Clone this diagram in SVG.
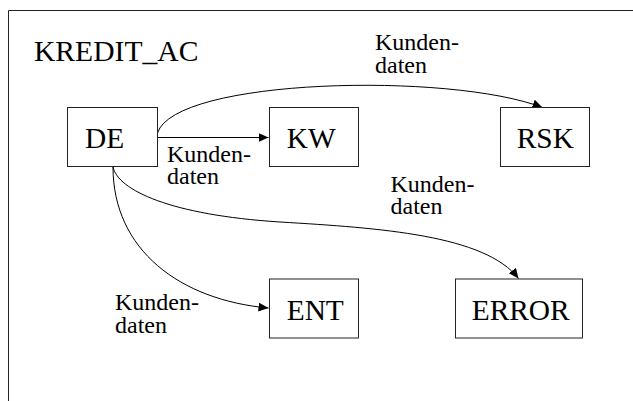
<svg xmlns="http://www.w3.org/2000/svg" width="633" height="401" viewBox="0 0 633 401">
  <style>
    .frame { fill: none; stroke: #222; stroke-width: 1; }
    .box { fill: #fff; stroke: #222; stroke-width: 1; }
    .edge { fill: none; stroke: #000; stroke-width: 1; marker-end: url(#arrow); }
  </style>
  <defs>
    <marker id="arrow" markerUnits="userSpaceOnUse" markerWidth="11" markerHeight="10" refX="10" refY="4.5" orient="auto">
      <path d="M0,0 L10,4.5 L0,9 Z" fill="#000"/>
    </marker>
  </defs>

  <rect width="633" height="401" fill="#fff"/>

  <g font-family="Liberation Serif" fill="#000">
    <!-- activity frame, open to the right and bottom -->
    <path class="frame" d="M8.5,401 V10.5 H633"/>
    <text x="34" y="61" font-size="29.6">KREDIT_AC</text>

    <!-- connectors -->
    <g id="connectors" font-size="24">
      <path class="edge" d="M157.5,137.5 L268.5,137.5"/>
      <path class="edge" d="M157.5,133 C175,78 450,72 542.5,107.5"/>
      <path class="edge" d="M113,167 C118,190 170,215 280,222 C380,228 485,235 518.5,278.5"/>
      <path class="edge" d="M113,167 C113,250 180,300 268.5,308"/>
      <text><tspan x="167" y="161.5">Kunden-</tspan><tspan x="167" y="184">daten</tspan></text>
      <text><tspan x="375" y="49.5">Kunden-</tspan><tspan x="375" y="72.5">daten</tspan></text>
      <text><tspan x="390.5" y="191.5">Kunden-</tspan><tspan x="390.5" y="214">daten</tspan></text>
      <text><tspan x="115" y="310">Kunden-</tspan><tspan x="115" y="333">daten</tspan></text>
    </g>

    <g font-size="29.4">
      <g id="DE">
        <rect class="box" x="67.5" y="107.5" width="90" height="59"/>
        <text x="85" y="148.3">DE</text>
      </g>
      <g id="KW">
        <rect class="box" x="269.5" y="107.5" width="89" height="59"/>
        <text x="286.7" y="148.3">KW</text>
      </g>
      <g id="RSK">
        <rect class="box" x="500.5" y="107.5" width="89" height="59"/>
        <text x="516.7" y="148.3">RSK</text>
      </g>
      <g id="ENT">
        <rect class="box" x="269.5" y="279" width="89" height="59"/>
        <text x="286.7" y="319.5">ENT</text>
      </g>
      <g id="ERROR">
        <rect class="box" x="455.5" y="279" width="127" height="59"/>
        <text x="471.7" y="319.5">ERROR</text>
      </g>
    </g>
  </g>
</svg>
